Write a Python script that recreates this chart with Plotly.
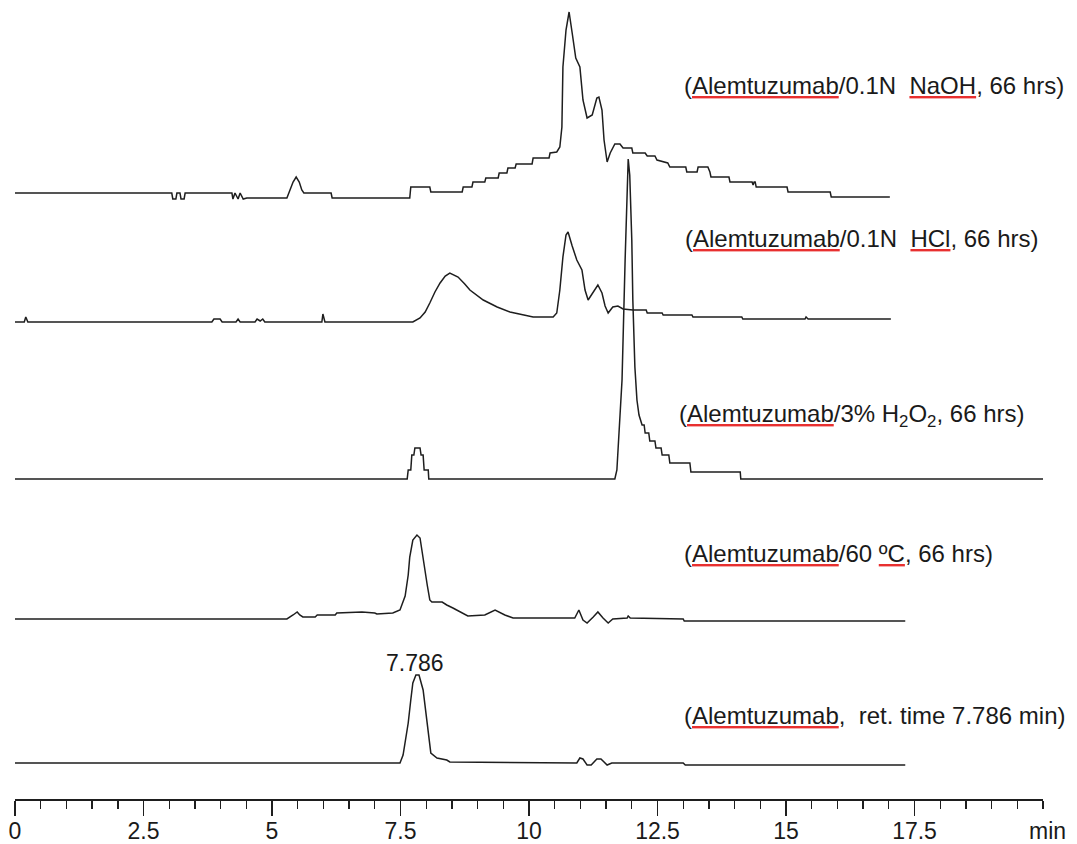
import plotly.graph_objects as go

# ---------------- data (retention time in min, detector response in arbitrary units) ----------------
naoh_t = [0.00, 3.05, 3.07, 3.13, 3.15, 3.21, 3.23, 3.29, 3.31, 4.22, 4.24, 4.28, 4.34, 4.38, 4.44, 4.51,
          5.29, 5.35, 5.41, 5.47, 5.53, 5.58, 5.62, 6.15, 6.17, 7.68, 7.70, 8.07, 8.09, 8.70, 8.72, 8.89,
          8.91, 9.14, 9.16, 9.40, 9.42, 9.57, 9.59, 9.73, 9.75, 10.06, 10.08, 10.39, 10.41, 10.54, 10.60,
          10.64, 10.66, 10.72, 10.78, 10.84, 10.91, 10.99, 11.05, 11.13, 11.23, 11.32, 11.36, 11.42, 11.46,
          11.52, 11.58, 11.67, 11.77, 11.83, 12.00, 12.02, 12.26, 12.30, 12.45, 12.49, 12.70, 12.74, 13.05,
          13.07, 13.27, 13.29, 13.48, 13.52, 13.54, 13.89, 13.91, 14.34, 14.36, 14.38, 14.40, 14.42, 15.02,
          15.04, 15.86, 15.88, 17.02]
naoh_v = [5, 5, -1, -1, 5, 5, -1, -1, 5, 5, -1, 5, -1, 5, -1, 0,
          0, 8, 16, 21, 16, 8, 5, 5, 0, 0, 11, 11, 6, 6, 11, 11,
          16, 16, 20, 20, 25, 25, 30, 30, 34, 34, 40, 40, 45, 46, 51,
          71, 131, 168, 186, 165, 140, 131, 98, 80, 83, 100, 101, 88, 58,
          36, 45, 54, 54, 50, 50, 45, 45, 42, 42, 38, 35, 31, 31,
          26, 26, 31, 31, 26, 21, 21, 16, 16, 13, 16, 16, 11, 11,
          6, 6, 1, 1]

hcl_t = [0.00, 0.18, 0.21, 0.25, 3.83, 3.87, 3.99, 4.03, 4.30, 4.34, 4.38, 4.67, 4.71, 4.77, 4.82, 4.86,
         5.97, 5.99, 6.03, 7.74, 7.88, 7.98, 8.07, 8.17, 8.27, 8.37, 8.46, 8.62, 8.75, 8.85, 9.11, 9.38,
         9.63, 9.88, 10.08, 10.47, 10.54, 10.60, 10.66, 10.72, 10.76, 10.84, 10.93, 11.03, 11.09, 11.15,
         11.25, 11.34, 11.42, 11.48, 11.54, 11.63, 11.73, 11.83, 12.02, 12.28, 12.30, 12.59, 12.61, 13.17,
         13.19, 14.14, 14.16, 15.37, 15.39, 15.43, 17.04]
hcl_v = [0, 0, 5, 0, 0, 3, 3, 0, 0, 3, 0, 0, 3, 1, 3, 0,
         0, 8, 0, 0, 4, 10, 19, 30, 39, 46, 49, 45, 38, 32, 22, 15,
         10, 7, 5, 5, 9, 32, 65, 87, 90, 76, 62, 52, 32, 22,
         30, 37, 29, 16, 9, 15, 16, 13, 12, 12, 9, 9, 7, 7,
         5, 5, 3, 3, 5, 3, 3]

h2o2_t = [0.00, 7.63, 7.65, 7.70, 7.72, 7.76, 7.78, 7.88, 7.90, 7.94, 7.96, 8.04, 8.05, 11.67, 11.71,
          11.77, 11.81, 11.87, 11.91, 11.93, 11.96, 12.00, 12.02, 12.06, 12.10, 12.14, 12.20, 12.24, 12.26,
          12.33, 12.35, 12.45, 12.47, 12.57, 12.59, 12.72, 12.74, 13.13, 13.15, 14.11, 14.12, 20.00]
h2o2_v = [0, 0, 9, 9, 24, 24, 31, 31, 24, 24, 9, 9, 0, 0, 9,
          59, 99, 219, 299, 320, 304, 239, 179, 112, 79, 64, 54, 54, 46,
          46, 38, 38, 31, 31, 24, 24, 16, 16, 7, 7, 0, 0]

c60_t = [0.00, 5.29, 5.41, 5.49, 5.54, 5.60, 5.84, 5.88, 6.23, 6.26, 6.75, 7.00, 7.04, 7.35, 7.49, 7.59,
         7.65, 7.68, 7.74, 7.82, 7.88, 7.94, 7.98, 8.02, 8.07, 8.11, 8.31, 8.40, 8.52, 8.66, 8.81, 9.14,
         9.34, 9.53, 9.69, 10.89, 10.97, 11.05, 11.13, 11.25, 11.34, 11.44, 11.54, 11.63, 11.91, 11.93,
         11.97, 13.00, 13.02, 17.32]
c60_v = [0, 0, 4, 7, 4, 2, 2, 4, 4, 6, 7, 6, 5, 6, 9, 23,
         44, 62, 79, 84, 81, 59, 44, 34, 19, 17, 17, 14, 11, 7, 3, 4,
         9, 4, 1, 1, 9, -1, -4, 2, 7, 1, -4, 0, 1, 3,
         1, 0, -2, -2]

ref_t = [0.00, 7.49, 7.55, 7.61, 7.65, 7.70, 7.74, 7.80, 7.86, 7.94, 7.98, 8.02, 8.09, 8.21, 8.40, 8.46,
         10.93, 10.99, 11.05, 11.13, 11.21, 11.32, 11.40, 11.52, 11.61, 13.00, 13.04, 17.32]
ref_v = [0, 0, 8, 25, 40, 63, 80, 88, 88, 73, 55, 36, 10, 5, 3, 1,
         0, 5, 4, -2, -2, 4, 4, -2, 0, 0, -2, -2]

major_ticks = [0, 2.5, 5, 7.5, 10, 12.5, 15, 17.5]
major_labels = ["0", "2.5", "5", "7.5", "10", "12.5", "15", "17.5"]
ref_peak_rt = 7.786
ref_peak_label = "7.786"

TXT = "#1a1a1a"


def sq(word):
    # spell-check style red underline under a word, text itself stays dark
    return (f"<span style='color:#e83030;text-decoration:underline'>"
            f"<span style='color:{TXT}'>{word}</span></span>")


labels = [
    f"({sq('Alemtuzumab')}/0.1N  {sq('NaOH')}, 66 hrs)",
    f"({sq('Alemtuzumab')}/0.1N  {sq('HCl')}, 66 hrs)",
    f"({sq('Alemtuzumab')}/3% H<sub>2</sub>O<sub>2</sub>, 66 hrs)",
    f"({sq('Alemtuzumab')}/60 {sq('ºC')}, 66 hrs)",
    f"({sq('Alemtuzumab')},  ret. time 7.786 min)",
]

# ---------------- layout constants ----------------
LINE = "#1e1e1e"
FONT = "Liberation Sans, Arial, sans-serif"
offsets = [601, 477, 320, 180, 36]          # vertical stacking of the traces
label_pos = [(12.97, 714), (12.99, 561), (12.88, 384), (12.98, 246), (12.98, 84)]

series = [(naoh_t, naoh_v), (hcl_t, hcl_v), (h2o2_t, h2o2_v), (c60_t, c60_v), (ref_t, ref_v)]

fig = go.Figure()
for (t, v), off in zip(series, offsets):
    fig.add_trace(go.Scatter(x=t, y=[off + a for a in v], mode="lines",
                             line=dict(color=LINE, width=1.5), hoverinfo="skip",
                             showlegend=False, cliponaxis=False))

annotations = []
for text, (x, y) in zip(labels, label_pos):
    annotations.append(dict(x=x, y=y, xref="x", yref="y", text=text, showarrow=False,
                            xanchor="left", yanchor="middle",
                            font=dict(family=FONT, size=24, color=TXT)))
annotations.append(dict(x=ref_peak_rt, y=136, xref="x", yref="y", text=ref_peak_label,
                        showarrow=False, xanchor="center", yanchor="middle",
                        font=dict(family=FONT, size=23, color=TXT)))
annotations.append(dict(x=1.004, y=-0.04, xref="paper", yref="paper", text="min", showarrow=False,
                        xanchor="center", yanchor="middle",
                        font=dict(family=FONT, size=23, color=TXT)))

fig.update_layout(
    width=1077, height=844,
    margin=dict(l=15, r=34, t=0, b=45, pad=0),
    paper_bgcolor="white", plot_bgcolor="white",
    annotations=annotations,
    hovermode=False,
    xaxis=dict(range=[0, 20], showline=True, linecolor=LINE, linewidth=1.5,
               showgrid=False, zeroline=False, automargin=False,
               ticks="outside", ticklen=15, tickwidth=1.4, tickcolor=LINE,
               tickmode="array", tickvals=major_ticks, ticktext=major_labels,
               ticklabelstandoff=-4,
               tickfont=dict(family=FONT, size=23, color=TXT),
               minor=dict(dtick=0.5, tick0=0, ticks="outside", ticklen=8, tickwidth=1.4,
                          tickcolor=LINE, showgrid=False)),
    yaxis=dict(range=[0, 799], visible=False, fixedrange=True, automargin=False),
)

fig.write_html("out.html", config={"displayModeBar": False, "staticPlot": True},
               post_script="document.body.style.margin='0';document.body.style.overflow='hidden';")
